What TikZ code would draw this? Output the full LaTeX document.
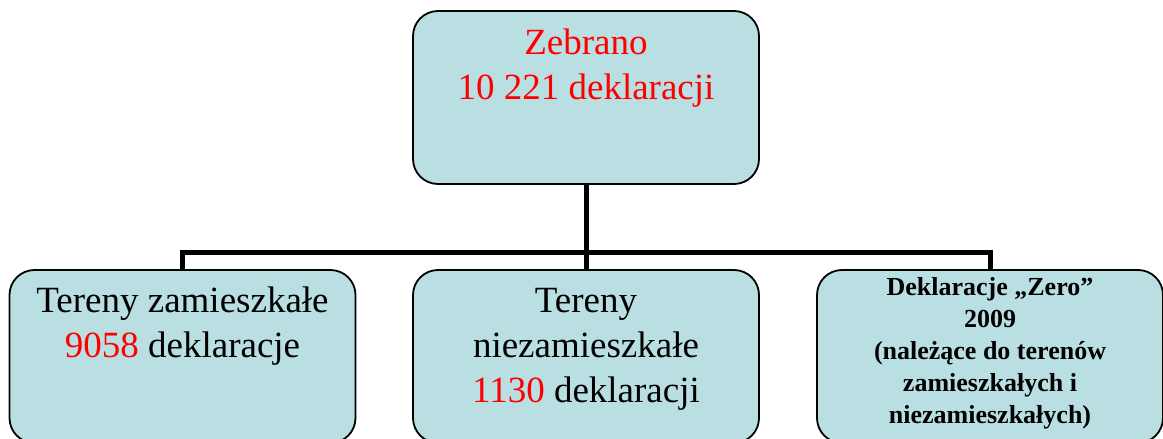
\documentclass[tikz,border=0pt]{standalone}
\usepackage{fontspec}
\setmainfont{Liberation Serif}
\definecolor{boxfill}{RGB}{185,223,227}
\tikzset{
  box/.style={draw=black,line width=1.8,fill=boxfill,rounded corners=25,
    minimum width=346,minimum height=173,inner sep=0},
  conn/.style={line width=5,line join=miter},
  bigtext/.style={anchor=north,align=center,inner sep=0,
    font=\fontsize{37}{45}\selectfont},
  smalltext/.style={anchor=north,align=center,inner sep=0,
    font=\fontsize{26}{32}\selectfont\bfseries}
}

\begin{document}
\begin{tikzpicture}[x=1pt,y=-1pt]
  \useasboundingbox (0,0) rectangle (1163,439);
  \node[box] (top) at (586,97.5) {};
  \node[box] (left) at (182.5,356.5) {};
  \node[box] (mid) at (586,356.5) {};
  \node[box] (right) at (990,356.5) {};
  % texts
  \node[bigtext,red] (toptext) at (586,29) {Zebrano\\10 221 deklaracji};
  \node[bigtext] (lefttext) at (182.5,287)
  {Tereny zamieszkałe\\\textcolor{red}{9058} deklaracje};
  \node[bigtext] (midtext) at (586,288.5)
  {Tereny\\niezamieszkałe\\\textcolor{red}{1130} deklaracji};
  \node[smalltext] (righttext) at (990,277)
  {Deklaracje „Zero”\\2009\\(należące do terenów\\zamieszkałych i\\niezamieszkałych)};
  % connectors
  \coordinate (bus) at (586,252);
  \draw[conn] (top.south) -- (bus);
  \draw[conn] (left.north) |- (bus) -| (right.north);
  \draw[conn] (bus) -- (mid.north);
\end{tikzpicture}
\end{document}
